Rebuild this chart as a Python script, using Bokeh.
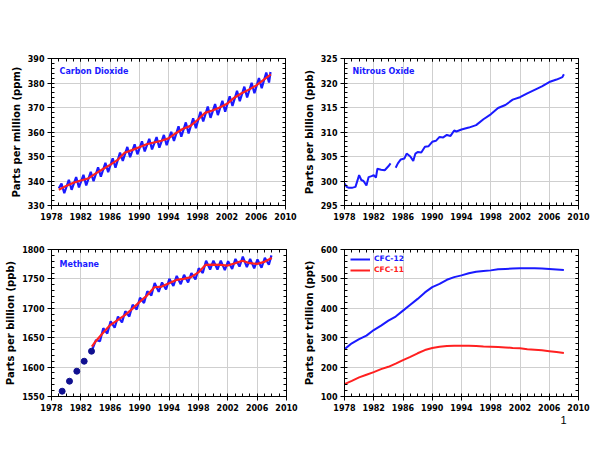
import math
from bokeh.plotting import figure
from bokeh.models import FixedTicker, Label, Legend, LegendItem, LinearAxis, Range1d, Title
from bokeh.layouts import column, row
from bokeh.embed import file_html
from bokeh.resources import INLINE

# ---------------- shared axis data ----------------
x_ticks = [1978, 1982, 1986, 1990, 1994, 1998, 2002, 2006, 2010]
x_minor = list(range(1978, 2011))

# ---------------- Carbon dioxide ----------------
co2_trend_years = [1979, 1980, 1981, 1982, 1983, 1984, 1985, 1986, 1987, 1988,
                   1989, 1990, 1991, 1992, 1993, 1994, 1995, 1996, 1997, 1998,
                   1999, 2000, 2001, 2002, 2003, 2004, 2005, 2006, 2007, 2008]
co2_trend = [336.4, 338.0, 339.3, 340.2, 341.0, 343.0, 344.8, 346.6, 348.5, 351.5,
             352.6, 353.8, 355.0, 355.7, 356.4, 357.4, 359.5, 361.3, 362.5, 365.0,
             367.8, 368.8, 370.0, 371.5, 374.0, 375.8, 377.3, 379.0, 381.3, 383.5]
co2_cycle_years = list(range(1979, 2008))
co2_peaks = [339.0, 340.5, 341.6, 342.5, 343.7, 345.6, 347.4, 349.3, 351.6, 353.9,
             355.0, 356.2, 357.2, 357.9, 358.8, 360.1, 362.3, 363.9, 365.6, 368.2,
             370.4, 371.4, 372.7, 374.6, 376.8, 378.5, 380.1, 382.0, 384.3]
co2_troughs = [335.0, 336.4, 337.4, 338.2, 339.9, 341.8, 343.6, 345.4, 348.2, 349.7,
               350.9, 352.1, 352.9, 353.6, 354.6, 356.4, 358.1, 359.4, 361.6, 364.3,
               365.8, 366.9, 368.3, 370.6, 372.6, 374.1, 375.8, 377.9, 380.2]
co2_start = (1979.0, 337.0)
co2_end = (2007.95, 384.5)
co2_ticks = [330, 340, 350, 360, 370, 380, 390]

# ---------------- Nitrous oxide ----------------
n2o_years = [1978.0, 1978.3, 1978.6, 1979.0, 1979.5, 1980.0, 1980.3, 1980.6, 1981.0,
             1981.3, 1981.7, 1982.0, 1982.3, 1982.5, 1983.0, 1983.5, 1984.0, 1984.3,
             float("nan"),
             1985.0, 1985.3, 1985.7, 1986.2, 1986.5, 1987.0, 1987.4, 1987.7, 1988.0,
             1988.5, 1989.0, 1989.5, 1990.0, 1990.5, 1991.0, 1991.5, 1992.0, 1992.5,
             1993.0, 1993.3, 1994.0, 1995.0, 1996.0, 1997.0, 1998.0, 1999.0, 2000.0,
             2001.0, 2002.0, 2003.0, 2004.0, 2005.0, 2006.0, 2007.0, 2007.8, 2008.0]
n2o_values = [299.5, 298.8, 298.6, 298.6, 298.8, 301.2, 300.2, 300.0, 299.1,
              300.8, 301.0, 301.2, 300.7, 302.5, 302.3, 302.2, 303.0, 303.6,
              float("nan"),
              302.7, 303.6, 304.4, 304.6, 305.6, 305.0, 304.1, 305.6, 305.9,
              305.8, 307.0, 307.1, 308.0, 308.2, 309.0, 308.9, 309.4, 309.2,
              310.3, 310.1, 310.5, 310.9, 311.4, 312.6, 313.6, 314.9, 315.5,
              316.6, 317.1, 317.9, 318.6, 319.3, 320.2, 320.7, 321.2, 321.8]
n2o_ticks = [295, 300, 305, 310, 315, 320, 325]

# ---------------- Methane ----------------
ch4_flask_years = [1979.45, 1980.45, 1981.45, 1982.45, 1983.45]
ch4_flask = [1559, 1576, 1593, 1610, 1627]
ch4_trend_years = [1983.5, 1984, 1985, 1986, 1987, 1988, 1989, 1990, 1991, 1992,
                   1993, 1994, 1995, 1996, 1997, 1998, 1999, 2000, 2001, 2002,
                   2003, 2004, 2005, 2006, 2007, 2008]
ch4_trend = [1634.7, 1643.7, 1658.0, 1671.5, 1680.0, 1688.5, 1699.0, 1711.0, 1721.6, 1735.8,
             1737.0, 1742.6, 1748.3, 1750.0, 1753.0, 1761.0, 1774.0, 1774.4, 1773.9, 1772.7,
             1776.7, 1781.0, 1776.7, 1775.6, 1779.0, 1785.5]
ch4_cycle_years = list(range(1984, 2008))
ch4_peaks = [1646, 1666, 1678, 1686, 1695, 1706, 1718, 1729, 1743, 1744,
             1750, 1755, 1757, 1760, 1768, 1781, 1781, 1781, 1780, 1784,
             1788, 1784, 1783, 1786]
ch4_troughs = [1644, 1657, 1667, 1676, 1686, 1698, 1709, 1722, 1728, 1732,
               1738, 1741, 1744, 1749, 1760, 1766, 1766, 1765, 1767, 1771,
               1770, 1768, 1769, 1774]
ch4_start = (1983.5, 1628)
ch4_end = (2007.95, 1790)
ch4_ticks = [1550, 1600, 1650, 1700, 1750, 1800]

# ---------------- CFCs ----------------
cfc_years = [1978, 1979, 1980, 1981, 1982, 1983, 1984, 1985, 1986, 1987, 1988,
             1989, 1990, 1991, 1992, 1993, 1994, 1995, 1996, 1997, 1998, 1999,
             2000, 2001, 2002, 2003, 2004, 2005, 2006, 2007, 2008]
cfc12 = [261, 281, 295, 307, 326, 341, 358, 372, 392, 412, 432,
         454, 472, 483, 497, 506, 512, 519, 524, 527, 529, 533,
         534, 535, 536, 536, 536, 535, 534, 532, 530]
cfc11 = [142, 153, 165, 174, 183, 193, 201, 212, 224, 235, 247,
         258, 265, 269, 272, 273, 273, 273, 272, 270, 269, 268,
         267, 265, 264, 261, 259, 257, 254, 251, 248]
cfc_ticks = [100, 200, 300, 400, 500, 600]

BLUE = "#1a1aff"
RED = "#ff2020"
FONT = "DejaVu Sans"


def interleave(years, highs, lows, start, end, hi_off, lo_off):
    xs, ys = [start[0]], [start[1]]
    for yr, hi, lo in zip(years, highs, lows):
        xs += [yr + hi_off, yr + lo_off]
        ys += [hi, lo]
    xs.append(end[0])
    ys.append(end[1])
    return xs, ys


def panel(w, h, borders, yr, yticks, yminor, ylabel):
    left, right, top, bottom = borders
    p = figure(width=w, height=h, x_range=Range1d(1978, 2010), y_range=Range1d(*yr),
               output_backend="svg", toolbar_location=None,
               min_border_left=left, min_border_right=right,
               min_border_top=top, min_border_bottom=bottom,
               background_fill_color="white", border_fill_color="white")
    xt = FixedTicker(ticks=x_ticks, minor_ticks=x_minor)
    yt = FixedTicker(ticks=yticks, minor_ticks=yminor)
    p.xaxis.ticker = xt
    p.yaxis.ticker = yt
    p.xgrid.ticker = xt
    p.ygrid.ticker = yt
    for g in (p.xgrid, p.ygrid):
        g.grid_line_color = "#cfcfcf"
        g.grid_line_width = 1
    for ax in (p.xaxis, p.yaxis):
        ax.major_label_text_font = FONT
        ax.major_label_text_font_style = "bold"
        ax.major_label_text_font_size = "8px"
        ax.major_label_text_color = "black"
        ax.major_label_standoff = 3
        ax.axis_line_color = "black"
        ax.major_tick_line_color = "black"
        ax.minor_tick_line_color = "black"
        ax.major_tick_out = 4
        ax.major_tick_in = 0
        ax.minor_tick_out = 0
        ax.minor_tick_in = 3
    p.yaxis.axis_label = ylabel
    p.yaxis.axis_label_text_font = FONT
    p.yaxis.axis_label_text_font_style = "bold"
    p.yaxis.axis_label_text_font_size = "10px"
    p.yaxis.axis_label_text_color = "black"
    p.yaxis.axis_label_standoff = 3
    for loc, tk in (("right", yt), ("above", xt)):
        ax = LinearAxis(ticker=tk, major_label_text_font_size="1px",
                        major_label_text_color=None,
                        major_label_standoff=0, axis_line_color="black",
                        major_tick_out=0, major_tick_in=3, minor_tick_out=0,
                        minor_tick_in=3, major_tick_line_color="black",
                        minor_tick_line_color="black")
        p.add_layout(ax, loc)
    p.outline_line_color = "black"
    p.outline_line_width = 1
    return p


def title(p, text, x, y):
    p.add_layout(Label(x=x, y=y, text=text, text_font=FONT, text_font_style="bold",
                       text_font_size="8px", text_color=BLUE, text_baseline="middle"))


# Panel 1: CO2
p1 = panel(300, 230, (51, 15, 58, 25), (330, 390), co2_ticks, list(range(330, 391, 2)),
           "Parts per million (ppm)")
cx, cy = interleave(co2_cycle_years, co2_peaks, co2_troughs, co2_start, co2_end, 0.37, 0.75)
p1.line(cx, cy, line_color=BLUE, line_width=2.2)
p1.line(co2_trend_years, co2_trend, line_color=RED, line_width=2.2)
title(p1, "Carbon Dioxide", 1979.1, 384.8)

# Panel 2: N2O
p2 = panel(300, 230, (43, 22, 58, 25), (295, 325), n2o_ticks, list(range(295, 326)),
           "Parts per billion (ppb)")
p2.line(n2o_years, n2o_values, line_color=BLUE, line_width=2)
title(p2, "Nitrous Oxide", 1979.1, 322.4)

# Panel 3: CH4
p3 = panel(300, 220, (51, 14, 19, 54), (1550, 1800), ch4_ticks, list(range(1550, 1801, 10)),
           "Parts per billion (ppb)")
mx, my = interleave(ch4_cycle_years, ch4_peaks, ch4_troughs, ch4_start, ch4_end, 0.05, 0.6)
p3.line(mx, my, line_color=BLUE, line_width=2.2)
p3.line(ch4_trend_years, ch4_trend, line_color=RED, line_width=2.2)
p3.scatter(ch4_flask_years, ch4_flask, size=6, color="#101090")
title(p3, "Methane", 1979.1, 1775)

# Panel 4: CFCs
p4 = panel(300, 220, (43, 22, 19, 54), (100, 600), cfc_ticks, list(range(100, 601, 20)),
           "Parts per trillion (ppt)")
r12 = p4.line(cfc_years, cfc12, line_color=BLUE, line_width=2)
r11 = p4.line(cfc_years, cfc11, line_color=RED, line_width=2)
for rend, lab, col, yloc in ((r12, "CFC-12", BLUE, 133), (r11, "CFC-11", RED, 122)):
    lg = Legend(items=[LegendItem(label=lab, renderers=[rend])], location=(6, yloc),
                label_text_font=FONT, label_text_font_style="bold",
                label_text_font_size="7.5px", label_text_color=col,
                glyph_width=20, glyph_height=8, label_height=8, label_standoff=4,
                padding=0, margin=0, spacing=0, border_line_color=None,
                background_fill_alpha=0)
    p4.add_layout(lg)
p4.add_layout(Title(text="1", align="right", offset=12, text_font="Liberation Sans",
                    text_font_size="11px", text_font_style="normal",
                    text_color="black", standoff=0), "below")

layout = column(row(p1, p2), row(p3, p4))
open("out.html", "w").write(file_html(layout, INLINE))
